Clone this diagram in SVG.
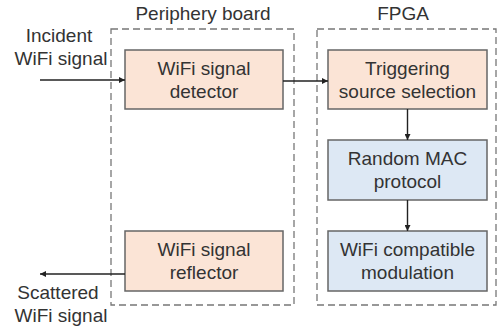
<svg xmlns="http://www.w3.org/2000/svg" width="498" height="330" viewBox="0 0 498 330">
<defs>
<style>
text{font-family:"Liberation Sans",Arial,sans-serif;font-size:19px;fill:#333;text-anchor:middle}
.grp{fill:none;stroke:#777;stroke-width:1.3;stroke-dasharray:7,4}
.peach{fill:#fbe4d6;stroke:#666;stroke-width:1.5}
.blue{fill:#dde8f4;stroke:#666;stroke-width:1.5}
.conn{stroke:#222;stroke-width:1.4;fill:none}
</style>
<marker id="ah" viewBox="0 0 10 10" refX="10" refY="5" markerWidth="6" markerHeight="6" markerUnits="userSpaceOnUse" orient="auto">
<path d="M0,0 L10,5 L0,10 z" fill="#222"/>
</marker>
</defs>
<rect width="498" height="330" fill="#fff"/>
<g id="periphery-board">
<rect class="grp" x="111" y="29" width="183" height="276"/>
<text x="203" y="20">Periphery board</text>
</g>
<g id="fpga">
<rect class="grp" x="317" y="29" width="179" height="276"/>
<text x="403" y="20">FPGA</text>
</g>
<g id="incident-label">
<text x="59" y="42">Incident</text>
<text x="61" y="65">WiFi signal</text>
</g>
<g id="scattered-label">
<text x="58" y="299">Scattered</text>
<text x="61" y="322">WiFi signal</text>
</g>
<g id="detector">
<rect class="peach" x="125" y="50" width="158" height="59"/>
<text x="204" y="75">WiFi signal</text>
<text x="204" y="98">detector</text>
</g>
<g id="reflector">
<rect class="peach" x="125" y="231" width="158" height="60"/>
<text x="204" y="256">WiFi signal</text>
<text x="204" y="279">reflector</text>
</g>
<g id="triggering">
<rect class="peach" x="328" y="50" width="159" height="59"/>
<text x="407.5" y="75">Triggering</text>
<text x="407.5" y="98">source selection</text>
</g>
<g id="random-mac">
<rect class="blue" x="328" y="140" width="159" height="60"/>
<text x="407.5" y="165">Random MAC</text>
<text x="407.5" y="188">protocol</text>
</g>
<g id="modulation">
<rect class="blue" x="328" y="231" width="159" height="60"/>
<text x="407.5" y="256">WiFi compatible</text>
<text x="407.5" y="279">modulation</text>
</g>
<g id="connectors">
<line class="conn" x1="40" y1="80" x2="125" y2="80" marker-end="url(#ah)"/>
<line class="conn" x1="283" y1="81" x2="328" y2="81" marker-end="url(#ah)"/>
<line class="conn" x1="407.5" y1="109" x2="407.5" y2="140" marker-end="url(#ah)"/>
<line class="conn" x1="407.5" y1="200" x2="407.5" y2="231" marker-end="url(#ah)"/>
<line class="conn" x1="125" y1="274" x2="40" y2="274" marker-end="url(#ah)"/>
</g>
</svg>
